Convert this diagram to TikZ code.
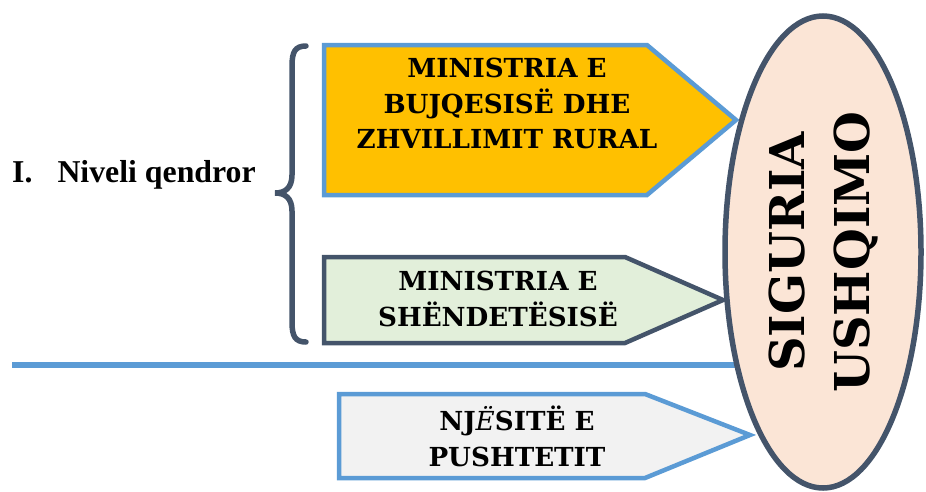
\documentclass[tikz,border=0pt]{standalone}
\usepackage{fontspec}
\setmainfont{Liberation Serif}
\newfontfamily\boxfont{DejaVu Serif}
\usetikzlibrary{shapes.geometric}
\definecolor{gold}{HTML}{FFC000}
\definecolor{sky}{HTML}{5B9BD5}
\definecolor{slate}{HTML}{44546A}
\definecolor{mint}{HTML}{E2EFDA}
\definecolor{pale}{HTML}{F2F2F2}
\definecolor{peach}{HTML}{FBE5D6}
\tikzset{
  arrowbox/.style={line width=4.5pt, line join=miter},
  boxtext/.style={font=\boxfont\bfseries\fontsize{26.2}{35.8}\selectfont, align=center, inner sep=0pt},
}
\begin{document}
\begin{tikzpicture}[x=1pt,y=-1pt]
\useasboundingbox (0,0) rectangle (926,491);
% brace
\draw[slate, line width=5.5pt, line cap=round]
  (306,46) .. controls (295,46) and (292,52) .. (292,66) -- (292,175)
  .. controls (292,188) and (285,193) .. (275,193)
  .. controls (285,193) and (292,198) .. (292,211) -- (292,322)
  .. controls (292,336) and (295,342) .. (306,342);
\node[anchor=base west, inner sep=0pt, font=\bfseries\fontsize{31.8}{36}\selectfont] (lvl) at (12,182) {I.\hspace{25pt}Niveli qendror};
% boxes
\draw[arrowbox, sky, fill=gold] (324,45) -- (647,45) -- (736,120) -- (647,195) -- (324,195) -- cycle;
\node[boxtext] (mbzhr) at (507,103.5) {MINISTRIA E\\BUJQESISË DHE\\ZHVILLIMIT RURAL};
\draw[arrowbox, slate, fill=mint] (324,257) -- (625,257) -- (723,300) -- (625,343) -- (324,343) -- cycle;
\node[boxtext] (msh) at (498,299) {MINISTRIA E\\SHËNDETËSISË};
\coordinate (lineL) at (12,365);
\coordinate (lineR) at (736,365);
\draw[sky, line width=6pt] (lineL) -- (lineR);
\draw[arrowbox, sky, fill=pale] (339,394) -- (645,394) -- (750,435) -- (645,478) -- (339,478) -- cycle;
\node[boxtext] (nje) at (517,436.5) {NJ{\mdseries\itshape Ë}SITË E\\PUSHTETIT};
% ellipse
\node[draw=slate, fill=peach, line width=5.5pt, ellipse, minimum width=196pt, minimum height=472pt, inner sep=0pt] (ell) at (823,252) {};
\node[rotate=90, font=\boxfont\bfseries\fontsize{48}{65}\selectfont, align=center, inner sep=0pt] (su) at (823,252) {SIGURIA\\USHQIMO};
\end{tikzpicture}
\end{document}
